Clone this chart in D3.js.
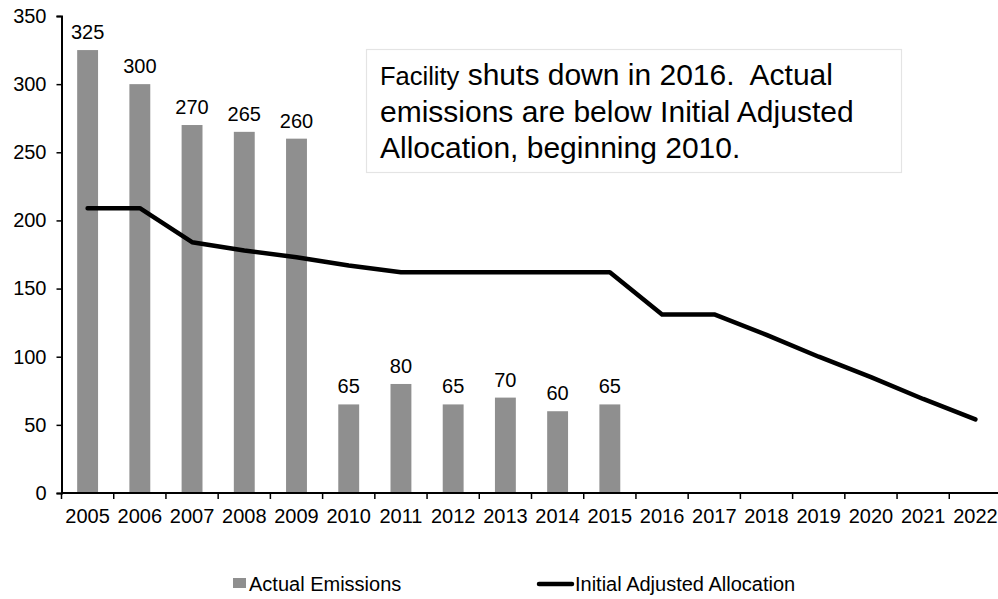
<!DOCTYPE html>
<html><head><meta charset="utf-8">
<script src="https://cdn.jsdelivr.net/npm/d3@7/dist/d3.min.js"></script>
<style>body{margin:0;background:#fff}svg{display:block}text{font-family:"Liberation Sans",Arial,sans-serif}</style>
</head><body>
<svg id="c" width="998" height="599"></svg>
<script>
const years = ["2005","2006","2007","2008","2009","2010","2011","2012","2013","2014","2015","2016","2017","2018","2019","2020","2021","2022"];
const emissionYears = ["2005","2006","2007","2008","2009","2010","2011","2012","2013","2014","2015"];
const actualEmissions = [325,300,270,265,260,65,80,65,70,60,65];
const allocation = [209,209,184,178,173,167,162,162,162,162,162,131,131,116,100,85,69,54];
const yTicks = [0,50,100,150,200,250,300,350];
const noteLines = [["Facility"," shuts down in 2016.  Actual"],["","emissions are below Initial Adjusted"],["","Allocation, beginning 2010."]];
const legendLabels = ["Actual Emissions","Initial Adjusted Allocation"];

const FS = 20;
const svg = d3.select("#c");
const x = d3.scaleBand().domain(years).range([61.5, 1001.5]).paddingInner(0.6).paddingOuter(0.3);
const xb = d3.scaleBand().domain(years).range([61.5, 1001.5]);
const y = d3.scaleLinear().domain([0,350]).range([493,16]);

// bars
svg.append("g").selectAll("rect").data(emissionYears).join("rect")
  .attr("x", d => x(d)).attr("width", x.bandwidth())
  .attr("y", (d,i) => y(actualEmissions[i])).attr("height", (d,i) => y(0)-y(actualEmissions[i]))
  .attr("fill", "#8f8f8f");

// bar labels
svg.append("g").selectAll("text").data(emissionYears).join("text")
  .attr("x", d => xb(d)+xb.bandwidth()/2).attr("y", (d,i) => y(actualEmissions[i]) - 11)
  .attr("text-anchor","middle").attr("font-size",FS).attr("fill","#000")
  .text((d,i) => actualEmissions[i]);

// line
const line = d3.line().x((d,i) => xb(years[i])+xb.bandwidth()/2).y(d => y(d));
svg.append("path").datum(allocation).attr("d", line)
  .attr("fill","none").attr("stroke","#000").attr("stroke-width",4.5)
  .attr("stroke-linecap","round").attr("stroke-linejoin","round");

// y axis
const yAxis = svg.append("g").attr("transform","translate(61.5,0)")
  .call(d3.axisLeft(y).tickValues(yTicks).tickSize(5).tickPadding(10));
yAxis.select(".domain").attr("stroke","#000").attr("stroke-width",2);
yAxis.selectAll(".tick line").attr("stroke","#000").attr("stroke-width",1.5);
yAxis.selectAll("text").attr("font-size",FS).attr("fill","#000").attr("font-family","Liberation Sans, Arial, sans-serif");

// x axis
const xAxis = svg.append("g").attr("transform","translate(0,493)")
  .call(d3.axisBottom(xb).tickSize(0).tickPadding(16));
xAxis.select(".domain").attr("stroke","#000").attr("stroke-width",2).attr("d","M61.5,0H1001.5");
xAxis.selectAll("text").attr("font-size",FS).attr("fill","#000").attr("font-family","Liberation Sans, Arial, sans-serif");
svg.append("g").selectAll("line").data(years).join("line")
  .attr("x1", d => xb(d)).attr("x2", d => xb(d)).attr("y1",493).attr("y2",499)
  .attr("stroke","#000").attr("stroke-width",1.5);

// note box
svg.append("rect").attr("x",366.5).attr("y",49.5).attr("width",535).attr("height",123)
  .attr("fill","#fff").attr("stroke","#e4e4e4").attr("stroke-width",1.2);
const nt = svg.append("g");
noteLines.forEach((ln,i) => {
  const t = nt.append("text").attr("x",380).attr("y",85 + i*36.5).attr("fill","#000");
  if (ln[0]) t.append("tspan").attr("font-size",25.5).text(ln[0]);
  t.append("tspan").attr("font-size",30).attr("xml:space","preserve").style("white-space","pre").text(ln[1]);
});

// legend
svg.append("rect").attr("x",233).attr("y",578).attr("width",13).attr("height",10).attr("fill","#8f8f8f");
svg.append("text").attr("x",249).attr("y",591).attr("font-size",FS).attr("fill","#000").text(legendLabels[0]);
svg.append("line").attr("x1",539).attr("x2",572).attr("y1",584).attr("y2",584)
  .attr("stroke","#000").attr("stroke-width",4.5).attr("stroke-linecap","round");
svg.append("text").attr("x",575).attr("y",591).attr("font-size",FS).attr("fill","#000").text(legendLabels[1]);
</script>
</body></html>
